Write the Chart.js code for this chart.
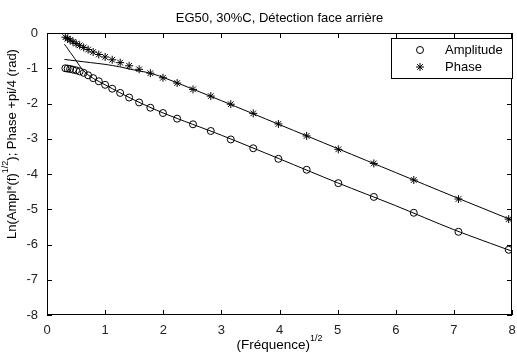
<!DOCTYPE html>
<html>
<head>
<meta charset="utf-8">
<script src="https://cdn.jsdelivr.net/npm/chart.js@4.4.0/dist/chart.umd.min.js"></script>
<style>
  html, body { margin: 0; padding: 0; background: #fff; }
</style>
</head>
<body>
<canvas id="myChart" width="517" height="356"></canvas>
<script>
// measured points, x = (frequency)^1/2
const sqrtFreq = [0.316, 0.355, 0.398, 0.447, 0.501, 0.562, 0.631, 0.708, 0.794, 0.891,
  1.0, 1.122, 1.259, 1.413, 1.585, 1.778, 1.995, 2.239, 2.512, 2.818,
  3.162, 3.548, 3.981, 4.467, 5.012, 5.623, 6.310, 7.079, 7.943];
const amplitude = [-1.00, -1.01, -1.02, -1.04, -1.06, -1.09, -1.13, -1.20, -1.28, -1.37,
  -1.47, -1.58, -1.70, -1.83, -1.97, -2.12, -2.27, -2.43, -2.59, -2.78,
  -3.02, -3.27, -3.57, -3.88, -4.26, -4.65, -5.10, -5.64, -6.15];
const phase = [-0.12, -0.16, -0.20, -0.25, -0.30, -0.35, -0.41, -0.47, -0.54, -0.61,
  -0.68, -0.76, -0.84, -0.93, -1.03, -1.14, -1.27, -1.42, -1.60, -1.79,
  -2.02, -2.28, -2.58, -2.92, -3.30, -3.70, -4.17, -4.71, -5.28];

// model curves
const ampFitX = [0.3, 0.35, 0.4, 0.45, 0.5, 0.56, 0.63, 0.7, 0.8, 0.9, 1.0, 1.25, 1.5, 2, 3, 4, 5, 6, 7, 8];
const ampFitY = [-0.32, -0.43, -0.55, -0.66, -0.78, -0.93, -1.07, -1.18, -1.29, -1.38, -1.47, -1.69, -1.90, -2.27, -2.90, -3.57, -4.25, -4.90, -5.58, -6.19];
const phaseFitX = [0.3, 0.5, 0.75, 1.0, 1.25, 1.5, 1.75, 2, 3, 4, 5, 6, 7, 8];
const phaseFitY = [-0.75, -0.79, -0.84, -0.89, -0.96, -1.05, -1.13, -1.26, -1.92, -2.60, -3.28, -3.96, -4.64, -5.31];

const xTicks = [0, 1, 2, 3, 4, 5, 6, 7, 8];
const yTicks = [0, -1, -2, -3, -4, -5, -6, -7, -8];
const chartTitle = "EG50, 30%C, Détection face arrière";
const seriesNames = ["Amplitude", "Phase"];

const FONT = "'Liberation Sans', Arial, sans-serif";

const toPoints = (xs, ys) => xs.map((x, i) => ({ x: x, y: ys[i] }));

// frame, inward ticks, titles and legend box (matlab look)
const matlabDecor = {
  id: "matlabDecor",
  afterDraw(chart) {
    const { ctx, chartArea: { left, top, right, bottom }, scales: { x, y } } = chart;
    ctx.save();
    ctx.strokeStyle = "#000";
    ctx.lineWidth = 1;
    ctx.strokeRect(left + 0.5, top + 0.5, right - left - 1, bottom - top - 1);

    ctx.beginPath();
    xTicks.forEach((v) => {
      const px = Math.round(x.getPixelForValue(v)) + 0.5;
      ctx.moveTo(px, bottom); ctx.lineTo(px, bottom - 5);
      ctx.moveTo(px, top); ctx.lineTo(px, top + 5);
    });
    yTicks.forEach((v) => {
      const py = Math.round(y.getPixelForValue(v)) + 0.5;
      ctx.moveTo(left, py); ctx.lineTo(left + 5, py);
      ctx.moveTo(right, py); ctx.lineTo(right - 5, py);
    });
    ctx.stroke();

    // title
    ctx.fillStyle = "#000";
    ctx.font = "13px " + FONT;
    ctx.textAlign = "center";
    ctx.textBaseline = "middle";
    ctx.fillText(chartTitle, (left + right) / 2, 18);

    // x axis title with superscript
    const xt = "(Fréquence)";
    ctx.font = "13.5px " + FONT;
    const w1 = ctx.measureText(xt).width;
    ctx.font = "9px " + FONT;
    const w2 = ctx.measureText("1/2").width;
    let sx = (left + right) / 2 - (w1 + w2) / 2;
    ctx.textAlign = "left";
    ctx.font = "13.5px " + FONT;
    ctx.fillText(xt, sx, 345);
    ctx.font = "9px " + FONT;
    ctx.fillText("1/2", sx + w1, 339);

    // y axis title, rotated
    const ya = "Ln(Ampl*(f)";
    const yb = "); Phase +pi/4 (rad)";
    ctx.save();
    ctx.translate(12, 144);
    ctx.rotate(-Math.PI / 2);
    ctx.font = "13px " + FONT;
    const a1 = ctx.measureText(ya).width;
    const a3 = ctx.measureText(yb).width;
    ctx.font = "9px " + FONT;
    const a2 = ctx.measureText("1/2").width;
    let sy = -(a1 + a2 + a3) / 2;
    ctx.font = "13px " + FONT;
    ctx.fillText(ya, sy, 0);
    ctx.fillText(yb, sy + a1 + a2, 0);
    ctx.font = "9px " + FONT;
    ctx.fillText("1/2", sy + a1, -6);
    ctx.restore();

    // legend box
    const bx = 391, by = 38, bw = 121, bh = 40;
    ctx.fillStyle = "#fff";
    ctx.fillRect(bx, by, bw, bh);
    ctx.strokeRect(bx + 0.5, by + 0.5, bw, bh);
    ctx.lineWidth = 1;
    ctx.beginPath();
    ctx.arc(420, 50, 3.5, 0, Math.PI * 2);
    ctx.stroke();
    Chart.helpers.drawPoint(ctx, { pointStyle: "star", radius: 4, rotation: 0, borderWidth: 1 }, 420, 67);
    ctx.fillStyle = "#000";
    ctx.font = "13px " + FONT;
    ctx.textAlign = "left";
    ctx.fillText(seriesNames[0], 445, 50);
    ctx.fillText(seriesNames[1], 445, 67);
    ctx.restore();
  },
};

const data = {
  datasets: [
    {
      label: "Amplitude fit",
      data: toPoints(ampFitX, ampFitY),
      showLine: true,
      borderColor: "#000",
      borderWidth: 1,
      pointRadius: 0,
      tension: 0.3,
    },
    {
      label: "Phase fit",
      data: toPoints(phaseFitX, phaseFitY),
      showLine: true,
      borderColor: "#000",
      borderWidth: 1,
      pointRadius: 0,
      tension: 0.3,
    },
    {
      label: seriesNames[0],
      data: toPoints(sqrtFreq, amplitude),
      pointStyle: "circle",
      pointRadius: 3.5,
      borderColor: "#000",
      backgroundColor: "rgba(0,0,0,0)",
      borderWidth: 1,
    },
    {
      label: seriesNames[1],
      data: toPoints(sqrtFreq, phase),
      pointStyle: "star",
      pointRadius: 4,
      borderColor: "#000",
      backgroundColor: "#000",
      borderWidth: 1,
    },
  ],
};

const config = {
  type: "scatter",
  data,
  options: {
    responsive: false,
    animation: false,
    layout: { padding: { top: 33, right: 2, left: 0, bottom: 0 } },
    plugins: {
      legend: { display: false },
      tooltip: { enabled: false },
    },
    scales: {
      x: {
        type: "linear",
        min: 0,
        max: 8,
        afterBuildTicks: (s) => { s.ticks = xTicks.map((v) => ({ value: v })); },
        afterFit: (s) => { s.height = 41; s.paddingLeft = 0; s.paddingRight = 0; },
        grid: { display: false, drawTicks: false },
        border: { display: false },
        ticks: { color: "#222", font: { family: FONT, size: 13 }, padding: 8, maxRotation: 0 },
      },
      y: {
        type: "linear",
        min: -8,
        max: 0,
        afterBuildTicks: (s) => { s.ticks = yTicks.map((v) => ({ value: v })); },
        afterFit: (s) => { s.width = 47; s.paddingTop = 0; s.paddingBottom = 0; },
        grid: { display: false, drawTicks: false },
        border: { display: false },
        ticks: { color: "#222", font: { family: FONT, size: 13 }, padding: 9 },
      },
    },
  },
  plugins: [matlabDecor],
};

const myChart = new Chart(document.getElementById("myChart"), config);
</script>
</body>
</html>
